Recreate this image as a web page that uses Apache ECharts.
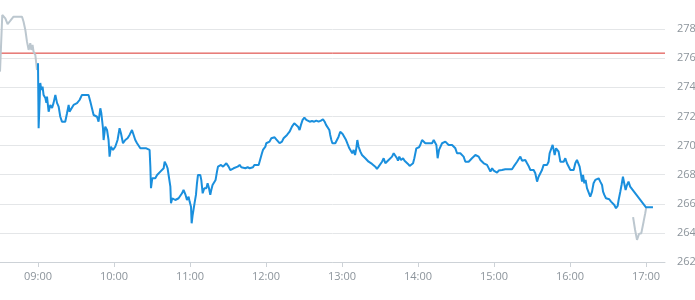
<!DOCTYPE html>
<html>
<head>
<meta charset="utf-8">
<script src="https://cdn.jsdelivr.net/npm/echarts@6/dist/echarts.min.js"></script>
<style>
html,body{margin:0;padding:0;background:#fff;}
#c{width:695px;height:300px;}
</style>
</head>
<body>
<div id="c"></div>
<script>
// minutes relative to 09:00, price
const preMarket = [[-30,275.08],[-28.2,278.97],[-27.2,279.04],[-25.8,278.74],[-24.0,278.35],[-21.8,278.58],[-19.3,278.85],[-12.6,278.85],[-11.4,278.51],[-10.0,277.94],[-8.7,277.14],[-7.4,276.57],[-6.1,277.03],[-5.3,276.57],[-4.3,276.91],[-3.5,276.45],[-2.1,276.22],[-0.8,275.19],[0,275.65]];

const regular = [[0,275.65],[0.5,271.19],[1.8,274.30],[2.6,273.82],[3.6,274.05],[4.4,273.48],[5.8,273.27],[6.6,272.93],[7.1,273.36],[8.4,272.33],[9.7,272.79],[11.1,272.58],[12.3,272.93],[13.7,273.48],[15.0,272.93],[16.3,272.67],[17.6,271.98],[18.9,271.64],[20.2,271.76],[21.5,271.64],[22.9,272.22],[24.2,272.79],[24.9,272.33],[26.1,272.45],[28.1,272.79],[30.8,272.91],[32.8,273.13],[34.7,273.48],[36.0,273.59],[37.3,273.48],[38.7,273.59],[39.9,273.48],[41.3,273.02],[42.6,272.56],[43.9,272.10],[45.2,272.22],[46.6,271.98],[47.8,271.64],[49.2,272.56],[50.0,272.22],[51.3,271.19],[51.8,270.38],[53.1,271.30],[54.5,271.07],[55.7,270.38],[56.5,269.24],[57.6,269.92],[59.2,269.70],[61.0,269.92],[62.8,270.38],[64.4,271.19],[65.5,270.85],[67.1,270.16],[68.9,270.38],[70.7,270.50],[72.3,270.73],[74.2,271.07],[75.5,270.95],[76.8,270.38],[78.2,270.16],[79.4,270.04],[80.8,269.81],
[82.9,269.81],[83.9,269.92],[85.5,269.81],[86.5,269.70],[88.1,269.70],[88.7,268.55],[89.2,267.07],[90.2,267.75],[91.3,267.64],[92.6,267.75],[94.0,267.98],[95.2,268.10],[96.6,268.21],[97.9,268.10],[99.2,268.44],[100.0,268.89],[101.3,268.67],[102.3,268.44],[103.7,268.44],[104.5,267.18],[105.0,266.04],[106.0,266.38],[107.1,266.26],[108.4,266.26],[109.7,266.26],[111.0,266.38],[112.3,266.49],[113.7,266.72],[114.9,266.95],[115.7,267.07],[116.5,266.61],[117.6,266.26],[118.9,266.49],[119.7,266.15],[120.8,265.80],[121.3,264.66],[122.1,265.23],[122.8,265.35],[123.6,266.04],[124.7,266.61],[125.5,267.41],[126.3,267.98],[128.1,267.98],[128.9,267.64],[130.0,266.72],[131.3,267.07],[132.9,267.07],[133.9,267.41],[135.0,267.07],[136.0,266.61],[136.8,266.95],[137.8,267.29],[139.2,267.41],[140.2,267.64],[141.3,268.21],[142.1,268.55],[143.4,268.44],[144.5,268.67],[146.1,268.55],[147.3,268.67],[148.7,268.78],[150.5,268.55],[151.8,268.32],[154.4,268.44],[155.8,268.37],[157.6,268.55],[159.2,268.67],[160.5,268.51],[161.8,268.60],[163.7,268.44],[165.5,268.51],[167.1,268.44],[168.4,268.37],[169.7,268.51],[170.8,268.67],[172.3,268.78],[174.2,268.67],[175.5,268.78],[176.8,269.47],[177.6,269.70],[178.7,269.58],[179.5,269.92],[180.2,270.16],[181.3,270.04],[182.8,270.27],[184.2,270.50],[185.5,270.43],[186.8,270.57],[188.1,270.43],[189.5,270.50],[190.7,270.16],[191.8,270.04],[192.6,270.27],[193.9,270.50],[195.2,270.61],[196.6,270.73],[198.6,270.95],[200.5,271.30],[202.3,271.53],[203.7,271.42],[205.3,271.30],[206.5,271.07],[207.6,271.42],[208.9,271.76],[210.3,271.92],[211.8,271.76],[212.9,271.81],[214.5,271.64],[216.3,271.69],[218.1,271.64],[219.7,271.71],[221.5,271.64],[223.4,271.71],[225.0,271.81],[226.3,271.64],[227.4,271.42],[228.6,271.30],[230.0,271.07],[230.7,270.73],[231.6,270.38],[232.4,270.16],[233.4,270.27],[234.7,270.16],[236.1,270.04],[237.3,270.61],[238.6,270.95],[240.5,270.80],[241.8,270.73],[243.2,270.38],[244.4,270.11],[245.8,269.81],[247.1,269.81],[248.1,269.47],[249.2,269.70],[250.3,269.35],[251.3,269.81],[252.1,270.38],[253.1,269.92],[254.5,269.58],[255.8,269.35],[257.1,269.29],[258.4,269.13],[259.7,269.01],[261.0,268.89],[262.4,268.89],[263.7,268.74],[264.9,268.67],[266.3,268.55],[267.6,268.39],[268.9,268.55],[270.2,268.67],[271.6,268.89],[272.9,269.13],[274.2,268.78],[275.5,268.89],[276.8,269.01],[278.1,268.89],[279.5,269.24],[280.8,269.47],[282.1,269.35],[283.4,269.13],[284.2,268.96],[285.2,269.24],[286.6,269.01],[288.2,269.13],[289.4,268.96],[290.8,268.89],[292.1,268.74],[293.4,268.60],[294.7,268.67],[296.1,268.78],[297.1,269.13],[297.9,269.47],[298.7,269.81],[299.7,269.92],[300.8,269.88],[301.8,270.04],[303.2,270.38],[304.5,270.50],[305.8,270.16],[307.1,270.27],[308.4,270.16],[309.8,270.27],[311.1,270.16],[312.4,270.38],[313.7,270.50],[314.5,270.04],[315.5,269.13],[316.6,269.70],[317.6,269.81],[319.0,270.16],[320.2,270.04],[321.6,270.27],[322.9,270.38],[324.2,270.04],[325.5,269.92],[326.9,270.04],[328.1,270.16],[329.5,269.81],[330.8,269.47],[332.1,269.58],[333.4,269.47],[334.7,269.35],[336.0,269.24],[337.4,268.89],[338.7,268.78],[340.0,268.89],[341.3,269.01],[342.6,269.13],[343.9,269.13],[345.3,269.35],[346.6,269.47],[347.9,269.24],[349.3,269.01],[350.6,268.89],[351.9,268.78],[353.2,268.67],[354.5,268.67],[355.8,268.55],[357.2,268.21],[358.5,268.44],[359.8,268.28],[361.1,268.32],[362.4,268.14],[363.7,268.28],[365.1,268.21],[366.3,268.32],[367.6,268.32],[368.9,268.37],[370.3,268.32],[371.6,268.37],[372.9,268.44],[374.2,268.37],[375.5,268.55],[376.8,268.67],[378.2,268.89],[379.4,269.06],[380.8,269.24],[382.1,268.96],[383.4,268.89],[384.7,269.01],[386.1,268.78],[387.3,268.60],[388.7,268.32],[390.0,268.28],[391.3,268.32],[392.6,268.10],[394.0,267.52],[395.2,267.86],[396.6,268.10],[397.9,268.32],[399.2,268.67],[400.6,268.78],[401.9,268.67],[403.1,268.89],[403.9,269.47],[405.3,269.81],[406.3,270.04],[407.1,269.70],[407.9,269.35],[409.0,269.81],[409.8,269.92],[411.0,269.58],[412.4,268.89],[413.7,268.78],[415.0,268.89],[416.3,269.13],[417.6,268.78],[418.9,268.78],[420.3,268.32],[421.6,268.44],[422.9,268.32],[424.2,268.78],[425.5,269.01],[426.8,268.89],[427.6,268.55],[428.7,267.98],[429.5,267.52],[430.3,267.98],[431.3,267.41],[432.3,267.64],[433.4,267.07],[434.7,267.18],[436.0,266.49],[437.4,266.83],[438.6,267.41],[440.0,267.64],[441.3,267.52],[442.6,267.75],[443.9,267.52],[445.3,267.29],[446.1,266.83],[447.1,266.61],[448.4,266.38],[449.7,266.26],[451.0,266.31],[452.4,266.15],[453.6,266.26],[455.0,265.92],[456.3,265.69],[457.6,265.85],[458.4,266.26],[459.7,266.83],[460.7,267.29],[461.8,267.86],[462.8,267.41],[463.9,266.95],[465.0,267.29],[466.2,267.52],[467.5,267.18],[480.0,265.76],[485.5,265.76]];

const postMarket = [[469.8,265.08],[471.4,264.20],[472.9,263.52],[474.5,263.93],[476.3,263.98],[478.1,264.77],[479.4,265.35],[480.2,265.76]];

const referenceLevel = 276.35;
const yMin = 262, yMax = 280, yStep = 2;
const axisStartMin = -30, axisEndMin = 495;

const base = new Date(2024, 0, 2, 9, 0, 0).getTime();
const toTs = m => base + m * 60000;
const conv = arr => arr.map(p => [toTs(p[0]), p[1]]);

const chart = echarts.init(document.getElementById('c'), null, {renderer: 'canvas'});
const labelColor = '#8c949b';
const refColor = '#d9312b';
chart.setOption({
  animation: false,
  backgroundColor: '#fff',
  grid: {left: 0, right: 30, top: 0, bottom: 38, containLabel: false, outerBoundsMode: 'none'},
  xAxis: {
    type: 'time',
    min: toTs(axisStartMin),
    max: toTs(axisEndMin),
    minInterval: 3600000,
    maxInterval: 3600000,
    axisLine: {show: true, lineStyle: {color: '#cdd2d7', width: 1}},
    axisTick: {show: true, length: 5, lineStyle: {color: '#cdd2d7'}},
    axisLabel: {
      formatter: '{HH}:{mm}',
      color: labelColor, fontSize: 11, fontFamily: 'Open Sans', margin: 9,
      showMinLabel: false, showMaxLabel: false
    },
    splitLine: {show: false},
    minorTick: {show: false}
  },
  yAxis: {
    type: 'value',
    position: 'right',
    min: yMin, max: yMax, interval: yStep,
    axisLine: {show: false},
    axisTick: {show: false},
    axisLabel: {color: labelColor, fontSize: 11, fontFamily: 'Open Sans', margin: 12, showMaxLabel: false},
    splitLine: {show: true, showMaxLine: false, lineStyle: {color: '#e4e6e8', width: 1}}
  },
  series: [
    {
      type: 'line', data: [[toTs(axisStartMin), referenceLevel], [toTs(axisEndMin), referenceLevel]],
      showSymbol: false, symbol: 'none', silent: true,
      lineStyle: {color: refColor, width: 1}, z: 1
    },
    {
      type: 'line', data: conv(preMarket), showSymbol: false, symbol: 'none',
      lineStyle: {color: '#bcc7cf', width: 2}, z: 2
    },
    {
      type: 'line', data: conv(regular), showSymbol: false, symbol: 'none',
      lineStyle: {color: '#1a8fdd', width: 2}, z: 3
    },
    {
      type: 'line', data: conv(postMarket), showSymbol: false, symbol: 'none',
      lineStyle: {color: '#bcc7cf', width: 2}, z: 2
    }
  ]
});
</script>
</body>
</html>
